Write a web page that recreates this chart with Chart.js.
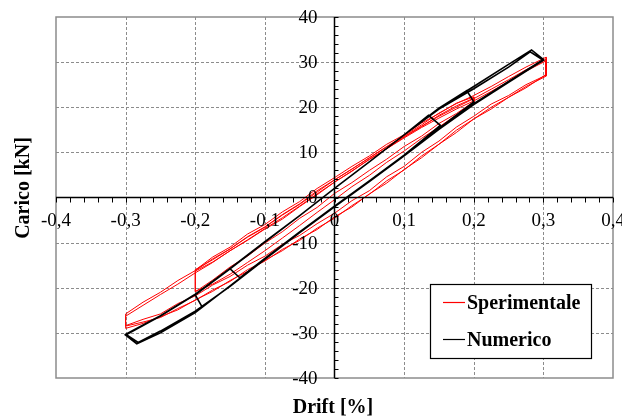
<!DOCTYPE html>
<html>
<head>
<meta charset="utf-8">
<script src="https://cdn.jsdelivr.net/npm/chart.js@4/dist/chart.umd.min.js"></script>
<style>
  html, body { margin: 0; padding: 0; background: #ffffff; }
  #wrap { width: 622px; height: 419px; }
</style>
</head>
<body>
<div id="wrap"><canvas id="grafico" width="622" height="419"></canvas></div>
<script>
// Tick values and their labels (decimal comma)
const tickDrift = [-0.4, -0.3, -0.2, -0.1, 0, 0.1, 0.2, 0.3, 0.4];
const tickDriftLabel = ['-0,4', '-0,3', '-0,2', '-0,1', '0', '0,1', '0,2', '0,3', '0,4'];
const tickCarico = [40, 30, 20, 10, 0, -10, -20, -30, -40];
const tickCaricoLabel = ['40', '30', '20', '10', '0', '-10', '-20', '-30', '-40'];

const serieNomi = ['Sperimentale', 'Numerico'];
const serieColori = ['#ff0000', '#000000'];

// ---- Sperimentale: drift stations of each branch ----
const driftRamo02 = [-0.2, -0.175, -0.15, -0.125, -0.1, -0.075, -0.05, -0.025, 0, 0.025, 0.05, 0.075, 0.1, 0.125, 0.15, 0.175, 0.2];
const driftCoda03 = [0.225, 0.25, 0.275, 0.304];
const driftRamo03 = [-0.3, -0.275, -0.25, -0.225, -0.2, -0.175, -0.15, -0.125, -0.1, -0.075, -0.05, -0.025, 0, 0.025, 0.05, 0.075, 0.1, 0.125, 0.15, 0.175, 0.2, 0.225, 0.25, 0.275, 0.304];

// ±0.2 % cycles: loading towards + (andata) and back towards - (ritorno)
const caricoAndata02a = [-16.1, -13.2, -11.0, -8.1, -6.0, -3.2, -0.9, 2.0, 4.4, 6.9, 9.2, 11.8, 13.9, 16.5, 18.6, 20.9, 22.3];
const caricoRitorno02a = [21.2, 18.6, 16.4, 13.6, 11.3, 8.5, 6.0, 3.3, 0.9, -2.2, -4.6, -7.6, -10.1, -13.0, -15.4, -18.3, -20.9];
const caricoAndata02b = [-16.3, -14.3, -11.8, -9.5, -7.0, -4.8, -2.0, 0.6, 3.4, 5.8, 8.5, 10.8, 13.4, 15.7, 18.2, 20.3, 22.0];
const caricoRitorno02b = [21.0, 18.3, 15.6, 13.1, 10.3, 7.8, 4.9, 2.4, -0.5, -3.3, -6.2, -9.0, -11.8, -14.4, -17.0, -19.2, -20.8];
const caricoAndata02c = [-16.0, -13.8, -11.4, -8.8, -6.6, -3.9, -1.5, 1.2, 3.9, 6.3, 8.8, 11.3, 13.7, 16.1, 18.7, 20.8, 22.6];
const caricoCoda03 = [24.6, 26.8, 28.9, 31.1];

// ±0.3 % cycles
const caricoRitorno03a = [27.1, 25.0, 22.6, 20.7, 18.0, 15.6, 12.5, 10.0, 6.9, 4.6, 1.5, -0.7, -3.5, -5.8, -8.4, -10.4, -13.0, -15.0, -17.5, -19.4, -21.8, -23.5, -25.8, -27.0, -28.4];
const caricoAndata03b = [-25.8, -23.2, -21.0, -18.4, -16.2, -13.6, -11.4, -8.7, -6.5, -3.8, -1.4, 1.5, 3.9, 6.3, 8.8, 11.2, 13.5, 15.8, 18.0, 20.0, 21.9, 24.0, 26.1, 28.3, 30.6];
const caricoRitorno03b = [27.3, 24.3, 22.2, 19.6, 17.4, 14.4, 11.8, 8.8, 6.2, 3.2, 0.8, -2.1, -4.3, -7.1, -9.2, -11.8, -13.9, -16.4, -18.4, -20.8, -22.7, -24.9, -26.4, -27.9, -29.0];
const caricoAndata03c = [-26.3, -23.9, -21.5, -19.2, -16.7, -14.4, -11.8, -9.4, -6.9, -4.5, -1.9, 0.8, 3.4, 5.9, 8.4, 10.8, 13.2, 15.5, 17.6, 19.6, 21.4, 23.5, 25.7, 28.0, 30.3];
const caricoRitorno03c = [26.9, 24.6, 22.2, 20.0, 17.4, 14.9, 11.8, 9.2, 6.1, 3.7, 0.7, -1.8, -4.6, -6.8, -9.5, -11.5, -14.1, -16.0, -18.6, -20.5, -22.8, -24.6, -26.6, -27.6, -28.5];

// ---- Numerico: full load path ----
const driftNum = [
  0, 0.05, 0.1, 0.135, 0.152,
  0.1, 0.05, 0, -0.05, -0.1, -0.136, -0.15,
  -0.1, -0.05, 0, 0.05, 0.1, 0.15, 0.19, 0.2,
  0.15, 0.1, 0.05, 0, -0.05, -0.1, -0.15, -0.19, -0.2,
  -0.15, -0.1, -0.05, 0, 0.05, 0.1, 0.15, 0.2, 0.25, 0.283, 0.3,
  0.25, 0.2, 0.15, 0.1, 0.05, 0, -0.05, -0.1, -0.15, -0.2, -0.25, -0.284, -0.3,
  -0.25, -0.2, -0.15, -0.1, -0.05, 0, 0.05, 0.1, 0.15, 0.2, 0.25, 0.281, 0.3,
  0.25, 0.2, 0.15, 0.1, 0.05, 0, -0.05, -0.1, -0.15, -0.2, -0.25, -0.282, -0.3,
  -0.25, -0.2, -0.15, -0.1, -0.05, 0
];
const caricoNum = [
  2.0, 7.9, 13.9, 18.2, 16.0,
  9.4, 3.7, -1.9, -7.6, -13.5, -17.8, -15.8,
  -9.9, -4.0, 2.0, 7.9, 13.9, 19.8, 23.7, 21.2,
  15.3, 9.3, 3.6, -2.0, -7.7, -13.6, -19.6, -24.3, -21.6,
  -15.8, -9.8, -4.0, 2.0, 7.9, 13.9, 19.8, 24.6, 29.5, 32.7, 30.6,
  25.7, 20.8, 15.3, 9.3, 3.6, -2.0, -7.7, -13.6, -19.6, -25.5, -30.0, -32.4, -30.5,
  -26.3, -21.5, -15.7, -9.8, -4.0, 2.0, 7.9, 13.9, 19.6, 24.1, 28.9, 32.3, 30.4,
  25.5, 20.6, 15.1, 9.2, 3.5, -2.1, -7.8, -13.7, -19.7, -25.2, -29.6, -32.1, -30.3,
  -26.2, -21.4, -15.7, -9.8, -4.0, 2.0
];

// Join drift/load branches into one polyline
function unisci(rami) {
  const punti = [];
  rami.forEach(([xs, ys]) => xs.forEach((xv, i) => punti.push({ x: xv, y: ys[i] })));
  return punti;
}
const rit02 = driftRamo02.slice().reverse();
const rit03 = driftRamo03.slice().reverse();

const puntiSper = unisci([
  [driftRamo02, caricoAndata02a], [rit02, caricoRitorno02a],
  [driftRamo02, caricoAndata02b], [rit02, caricoRitorno02b],
  [driftRamo02, caricoAndata02c], [driftCoda03, caricoCoda03],
  [rit03, caricoRitorno03a],
  [driftRamo03, caricoAndata03b], [rit03, caricoRitorno03b],
  [driftRamo03, caricoAndata03c], [rit03, caricoRitorno03c]
]);
const puntiNum = unisci([[driftNum, caricoNum]]);

const FONT = "'Liberation Serif', 'Times New Roman', serif";

// Frame, dashed grid, central axes, labels, titles and legend
const assiCentrali = {
  id: 'assiCentrali',
  beforeDatasetsDraw(chart) {
    const { ctx, chartArea: a, scales: { x, y } } = chart;
    ctx.save();
    ctx.strokeStyle = '#8c8c8c';
    ctx.lineWidth = 1;
    ctx.setLineDash([3, 2]);
    tickDrift.forEach(v => {
      if (v === 0 || Math.abs(v) === 0.4) return;
      const px = Math.round(x.getPixelForValue(v)) + 0.5;
      ctx.beginPath(); ctx.moveTo(px, a.top); ctx.lineTo(px, a.bottom); ctx.stroke();
    });
    tickCarico.forEach(v => {
      if (v === 0 || Math.abs(v) === 40) return;
      const py = Math.round(y.getPixelForValue(v)) + 0.5;
      ctx.beginPath(); ctx.moveTo(a.left, py); ctx.lineTo(a.right, py); ctx.stroke();
    });
    ctx.setLineDash([]);
    ctx.strokeStyle = '#8c8c8c';
    ctx.lineWidth = 1.5;
    ctx.strokeRect(a.left, a.top, a.right - a.left, a.bottom - a.top);
    ctx.restore();
  },
  afterDatasetsDraw(chart) {
    const { ctx, chartArea: a, scales: { x, y } } = chart;
    const x0 = x.getPixelForValue(0);
    const y0 = y.getPixelForValue(0);
    ctx.save();
    // axes through the origin
    ctx.strokeStyle = '#000';
    ctx.lineWidth = 1.5;
    ctx.beginPath();
    ctx.moveTo(a.left, y0); ctx.lineTo(a.right, y0);
    ctx.moveTo(x0, a.top); ctx.lineTo(x0, a.bottom);
    ctx.stroke();
    // minor ticks: 0.02 % on drift, 2 kN on load
    ctx.lineWidth = 1;
    ctx.beginPath();
    for (let i = -20; i <= 20; i++) {
      const px = Math.round(x.getPixelForValue(i * 0.02)) + 0.5;
      ctx.moveTo(px, y0); ctx.lineTo(px, y0 + 5);
    }
    for (let j = -20; j <= 20; j++) {
      const py = Math.round(y.getPixelForValue(j * 2)) + 0.5;
      ctx.moveTo(x0, py); ctx.lineTo(x0 + 4, py);
    }
    ctx.stroke();
    // tick labels
    ctx.fillStyle = '#000';
    ctx.font = '19px ' + FONT;
    ctx.textAlign = 'center';
    ctx.textBaseline = 'middle';
    tickDrift.forEach((v, i) => ctx.fillText(tickDriftLabel[i], x.getPixelForValue(v), y0 + 24));
    ctx.textAlign = 'right';
    tickCarico.forEach((v, i) => ctx.fillText(tickCaricoLabel[i], x0 - 17, y.getPixelForValue(v) + 1));
    // axis titles
    ctx.font = 'bold 20px ' + FONT;
    ctx.textAlign = 'center';
    ctx.textBaseline = 'alphabetic';
    ctx.fillText('Drift [%]', 333, 413);
    ctx.save();
    ctx.translate(29, 188);
    ctx.rotate(-Math.PI / 2);
    ctx.fillText('Carico [kN]', 0, 0);
    ctx.restore();
    // legend box
    const lx = 430, ly = 284, lw = 161, lh = 74;
    ctx.fillStyle = '#fff';
    ctx.fillRect(lx, ly, lw, lh);
    ctx.strokeStyle = '#000';
    ctx.lineWidth = 1.2;
    ctx.strokeRect(lx + 0.5, ly + 0.5, lw, lh);
    const righe = [302, 339];
    chart.data.datasets.forEach((ds, i) => {
      ctx.strokeStyle = ds.borderColor;
      ctx.lineWidth = 1.2;
      ctx.beginPath(); ctx.moveTo(443, righe[i] + 0.5); ctx.lineTo(465, righe[i] + 0.5); ctx.stroke();
      ctx.fillStyle = '#000';
      ctx.textAlign = 'left';
      ctx.fillText(ds.label, 467, righe[i] + 6.5);
    });
    ctx.restore();
  }
};

new Chart(document.getElementById('grafico'), {
  type: 'scatter',
  data: {
    datasets: [
      { label: serieNomi[0], data: puntiSper, showLine: true, borderColor: serieColori[0], borderWidth: 1, pointRadius: 0, fill: false, tension: 0, order: 1 },
      { label: serieNomi[1], data: puntiNum, showLine: true, borderColor: serieColori[1], borderWidth: 1.6, pointRadius: 0, fill: false, tension: 0, order: 0 }
    ]
  },
  options: {
    responsive: false,
    animation: false,
    devicePixelRatio: 1,
    layout: { padding: { left: 56, right: 9, top: 17, bottom: 41 } },
    plugins: { legend: { display: false }, tooltip: { enabled: false } },
    scales: {
      x: { type: 'linear', min: -0.4, max: 0.4, display: false },
      y: { type: 'linear', min: -40, max: 40, display: false }
    }
  },
  plugins: [assiCentrali]
});
</script>
</body>
</html>
